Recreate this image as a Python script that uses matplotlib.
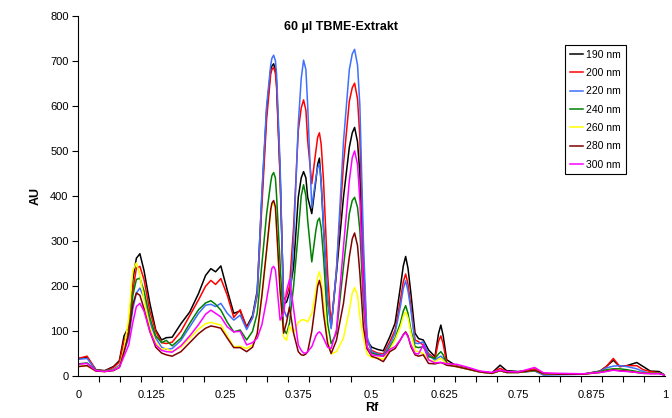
import numpy as np
import matplotlib
matplotlib.use('Agg')
from matplotlib import pyplot as plt

plt.rcParams['font.family'] = ['Liberation Sans', 'DejaVu Sans']

# Rf positions
rf = [0.000, 0.015, 0.030, 0.045, 0.060, 0.070, 0.078, 0.086, 0.093, 0.099,
      0.105, 0.112, 0.122, 0.132, 0.142, 0.150, 0.160, 0.175, 0.190, 0.205,
      0.217, 0.226, 0.234, 0.243, 0.254, 0.265, 0.276, 0.287, 0.297, 0.305,
      0.313, 0.321, 0.328, 0.330, 0.333, 0.336, 0.338, 0.344, 0.350, 0.355,
      0.360, 0.367, 0.375, 0.380, 0.384, 0.388, 0.391, 0.398, 0.405, 0.408,
      0.411, 0.414, 0.418, 0.425, 0.431, 0.440, 0.452, 0.462, 0.467, 0.471,
      0.476, 0.480, 0.486, 0.492, 0.500, 0.510, 0.520, 0.531, 0.540, 0.549,
      0.554, 0.558, 0.562, 0.567, 0.574, 0.580, 0.588, 0.597, 0.608, 0.614,
      0.618, 0.622, 0.628, 0.645, 0.665, 0.685, 0.705, 0.719, 0.730, 0.750,
      0.778, 0.793, 0.820, 0.860, 0.889, 0.900, 0.912, 0.923, 0.935, 0.952,
      0.963, 0.975, 0.990, 1.000]

au_190 = [40, 42, 15, 13, 22, 35, 90, 110, 215, 262,
          272, 235, 162, 103, 81, 86, 87, 117, 143, 184,
          224, 239, 232, 245, 191, 140, 145, 110, 135, 190,
          400, 590, 680, 688, 693, 680, 650, 450, 160, 165,
          185, 243, 397, 440, 454, 440, 397, 361, 434, 470,
          484, 430, 331, 169, 110, 228, 397, 508, 540, 552,
          520, 449, 228, 81, 65, 60, 57, 88, 118, 198,
          245, 266, 240, 184, 96, 84, 81, 59, 44, 95,
          114, 90, 37, 23, 18, 11, 8, 25, 13, 11,
          15, 7, 5, 5, 12, 22, 36, 22, 24, 31,
          22, 12, 11, 3]
au_200 = [40, 45, 15, 12, 20, 32, 80, 100, 190, 240,
          244, 215, 145, 100, 75, 73, 76, 100, 135, 170,
          200, 213, 204, 217, 180, 131, 148, 108, 130, 180,
          380, 570, 670, 680, 685, 672, 640, 440, 170, 178,
          200, 331, 545, 595, 613, 590, 523, 427, 500, 530,
          540, 515, 434, 228, 110, 235, 470, 610, 640, 650,
          615, 530, 260, 80, 58, 52, 50, 77, 103, 169,
          210, 227, 205, 155, 81, 77, 70, 51, 40, 78,
          90, 72, 30, 23, 17, 11, 8, 18, 11, 10,
          17, 7, 5, 5, 11, 22, 40, 22, 24, 24,
          15, 11, 8, 3]
au_220 = [38, 40, 14, 12, 16, 25, 55, 85, 150, 185,
          196, 175, 120, 85, 65, 60, 62, 80, 110, 140,
          158, 160, 155, 162, 140, 125, 136, 104, 130, 185,
          410, 600, 690, 705, 712, 700, 670, 470, 150, 132,
          147, 300, 560, 660, 701, 680, 600, 375, 440, 462,
          471, 430, 330, 170, 106, 235, 520, 680, 715, 725,
          690, 600, 300, 90, 55, 50, 47, 70, 96, 155,
          195, 212, 190, 147, 74, 73, 77, 48, 36, 42,
          45, 40, 27, 22, 16, 10, 7, 13, 9, 9,
          12, 3, 4, 5, 11, 19, 23, 24, 22, 17,
          11, 7, 8, 3]
au_240 = [28, 30, 14, 12, 15, 22, 60, 95, 180, 215,
          218, 190, 130, 90, 75, 80, 68, 85, 118, 148,
          163, 168, 160, 147, 120, 99, 103, 81, 100, 140,
          250, 360, 430, 445, 452, 440, 400, 250, 105, 95,
          118, 200, 320, 400, 425, 400, 346, 254, 324, 345,
          351, 330, 265, 118, 73, 96, 243, 361, 390, 397,
          375, 324, 162, 65, 52, 48, 45, 64, 85, 118,
          145, 157, 140, 103, 66, 64, 66, 44, 40, 50,
          55, 48, 27, 22, 16, 10, 7, 13, 9, 9,
          13, 6, 5, 5, 10, 15, 17, 17, 15, 11,
          8, 7, 7, 3]
au_260 = [22, 24, 12, 11, 14, 22, 60, 130, 235, 252,
          225, 170, 110, 75, 60, 62, 55, 65, 85, 105,
          117, 120, 117, 114, 90, 66, 67, 62, 70, 95,
          178, 276, 366, 380, 386, 372, 326, 186, 88, 80,
          112, 96, 120, 125, 126, 124, 121, 140, 190, 220,
          232, 215, 170, 80, 50, 55, 85, 147, 185, 197,
          180, 132, 85, 50, 42, 42, 38, 60, 81, 110,
          133, 143, 130, 96, 57, 55, 51, 37, 33, 38,
          40, 36, 27, 22, 16, 10, 7, 13, 9, 9,
          14, 6, 5, 5, 9, 12, 15, 13, 12, 9,
          7, 7, 7, 3]
au_280 = [22, 24, 12, 11, 13, 20, 55, 95, 160, 185,
          180, 150, 100, 65, 52, 48, 45, 55, 75, 95,
          107, 112, 110, 107, 85, 64, 64, 55, 65, 95,
          180, 280, 370, 384, 390, 376, 330, 190, 96, 120,
          154, 96, 55, 48, 47, 50, 55, 100, 169, 200,
          213, 195, 140, 73, 51, 80, 162, 265, 305, 318,
          290, 228, 110, 62, 45, 40, 33, 55, 62, 81,
          93, 99, 90, 66, 48, 45, 48, 29, 28, 30,
          31, 29, 25, 22, 16, 10, 7, 13, 9, 9,
          14, 6, 5, 5, 9, 12, 15, 13, 12, 9,
          7, 7, 7, 3]
au_300 = [27, 29, 13, 11, 14, 20, 45, 70, 120, 155,
          162, 145, 100, 70, 58, 55, 54, 68, 90, 115,
          138, 147, 140, 132, 110, 99, 100, 70, 75, 85,
          115, 170, 225, 240, 244, 236, 210, 125, 140, 190,
          215, 150, 70, 58, 52, 52, 55, 66, 90, 96,
          99, 95, 85, 65, 62, 103, 287, 434, 485, 500,
          470, 390, 191, 66, 48, 46, 45, 60, 66, 81,
          92, 97, 88, 70, 51, 50, 70, 37, 30, 31,
          31, 30, 28, 27, 20, 12, 9, 14, 11, 10,
          20, 8, 7, 6, 9, 11, 14, 12, 11, 9,
          7, 6, 6, 3]

labels = ['190 nm', '200 nm', '220 nm', '240 nm', '260 nm', '280 nm', '300 nm']
colors = ['#000000', '#ff0000', '#3f6fff', '#008000', '#ffff00', '#800000', '#ff00ff']
series = [au_190, au_200, au_220, au_240, au_260, au_280, au_300]

fig = plt.figure(figsize=(6.72, 4.18), dpi=100)
ax = fig.add_axes([0.1165, 0.0993, 0.873, 0.8636])

for vals, lab, col in zip(series, labels, colors):
    ax.plot(rf, vals, color=col, lw=1.1, label=lab)

ax.set_xlim(0, 1)
ax.set_ylim(0, 800)
ax.set_yticks(np.arange(0, 801, 100))
ax.set_xticks([0, 0.125, 0.25, 0.375, 0.5, 0.625, 0.75, 0.875, 1])
ax.set_xticklabels(['0', '0.125', '0.25', '0.375', '0.5', '0.625', '0.75', '0.875', '1'])
ax.set_xticks(np.linspace(0, 1, 29), minor=True)
ax.tick_params(axis='x', which='major', length=0, pad=10, labelsize=8)
ax.tick_params(axis='x', which='minor', length=4, direction='out', width=0.8)
ax.tick_params(axis='y', length=4, direction='out', width=0.8, pad=3, labelsize=8)

for s in ['top', 'right']:
    ax.spines[s].set_visible(False)
for s in ['left', 'bottom']:
    ax.spines[s].set_linewidth(0.8)

ax.set_xlabel('Rf', fontsize=9, fontweight='bold', labelpad=1)
ax.set_ylabel('AU', fontsize=9, fontweight='bold', labelpad=6)
fig.text(0.508, 0.935, '60 µl TBME-Extrakt', fontsize=9, fontweight='bold', ha='center', va='center')

leg = ax.legend(loc='upper left', bbox_to_anchor=(565 / 672, 1 - 45 / 418), bbox_transform=fig.transFigure,
                fontsize=7.5, frameon=True, fancybox=False, edgecolor='black', framealpha=1,
                handlelength=1.3, handletextpad=0.3, borderpad=0.45, labelspacing=0.8, borderaxespad=0)
leg.get_frame().set_linewidth(0.8)

fig.savefig('out.png', dpi=100)
